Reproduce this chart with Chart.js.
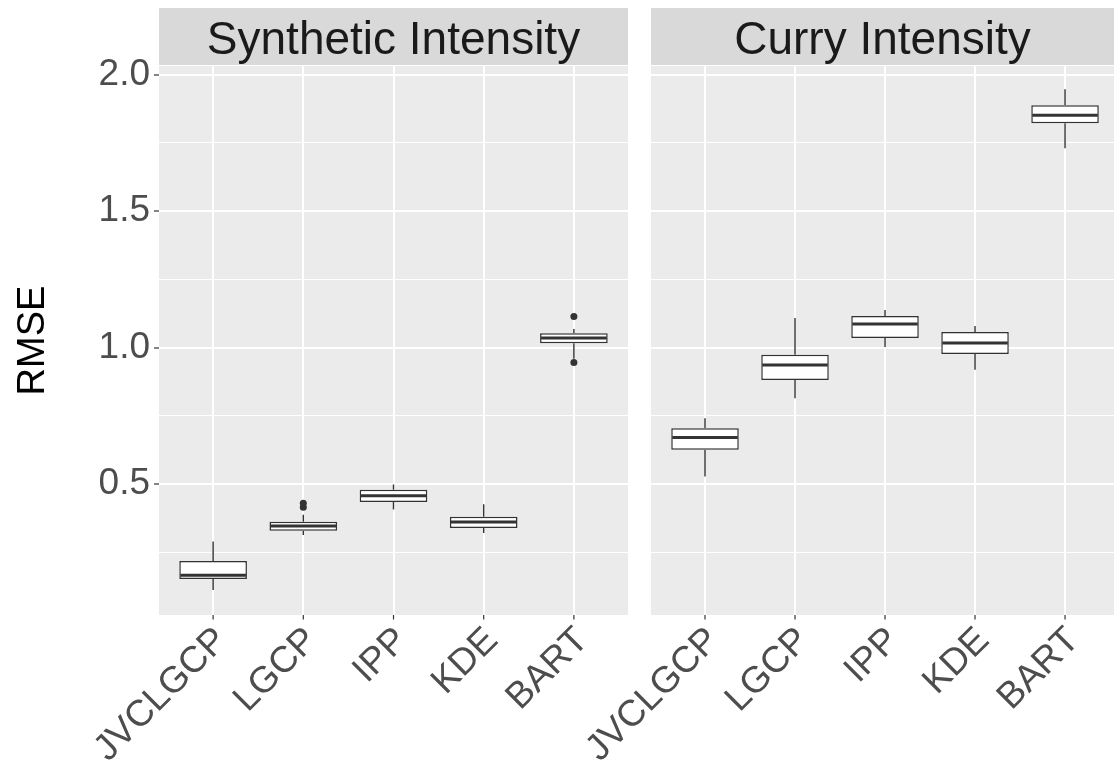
<!DOCTYPE html>
<html>
<head>
<meta charset="utf-8">
<script src="https://cdn.jsdelivr.net/npm/chart.js@4.4.1/dist/chart.umd.min.js"></script>
<style>
  html, body { margin: 0; padding: 0; background: #ffffff; }
  #wrap { position: relative; width: 1114px; height: 771px; overflow: hidden; }
  #left { position: absolute; left: 0; top: 0; }
  #right { position: absolute; left: 560px; top: 0; }
</style>
</head>
<body>
<div id="wrap">
  <canvas id="left" width="640" height="771"></canvas>
  <canvas id="right" width="554" height="771"></canvas>
</div>
<script>
// Methods compared on the x axis
const methods = ['JVCLGCP', 'LGCP', 'IPP', 'KDE', 'BART'];
const panelTitles = ['Synthetic Intensity', 'Curry Intensity'];
const yLabelTicks = [0.5, 1.0, 1.5, 2.0];
const yMinorTicks = [0.25, 0.75, 1.25, 1.75];
const yAxisTitle = 'RMSE';

// Synthetic intensity: box-plot summaries per method
const synLow  = [0.113, 0.314, 0.407, 0.321, 0.960];
const synQ1   = [0.153, 0.330, 0.435, 0.340, 1.016];
const synMed  = [0.167, 0.347, 0.458, 0.362, 1.036];
const synQ3   = [0.219, 0.363, 0.480, 0.381, 1.053];
const synHigh = [0.290, 0.388, 0.499, 0.427, 1.069];
const synOutIdx = [1, 1, 4, 4];
const synOutVal = [0.430, 0.416, 1.114, 0.946];

// Curry intensity: box-plot summaries per method
const curLow  = [0.528, 0.815, 1.003, 0.919, 1.731];
const curQ1   = [0.626, 0.882, 1.036, 0.977, 1.822];
const curMed  = [0.671, 0.937, 1.087, 1.017, 1.852];
const curQ3   = [0.705, 0.974, 1.116, 1.058, 1.888];
const curHigh = [0.742, 1.109, 1.138, 1.080, 1.947];
const curOutIdx = [];
const curOutVal = [];

const FONT = 'Liberation Sans, Arial, Helvetica, sans-serif';
const INK = '#333333';
const Y_MIN = 0.021, Y_MAX = 2.032;
const X_LABEL_SIZE = 37;

function isMajor(v) { return yLabelTicks.some(t => Math.abs(t - v) < 1e-9); }

// Panel background + facet strip with its label
const facetStrip = {
  id: 'facetStrip',
  beforeDraw(chart, args, opts) {
    const { ctx, chartArea: a } = chart;
    ctx.save();
    ctx.fillStyle = '#EBEBEB';
    ctx.fillRect(a.left, a.top, a.right - a.left, a.bottom - a.top);
    ctx.fillStyle = '#D9D9D9';
    ctx.fillRect(a.left, 8, a.right - a.left, a.top - 9);
    ctx.fillStyle = '#1A1A1A';
    ctx.font = '46px ' + FONT;
    ctx.textAlign = 'center';
    ctx.textBaseline = 'alphabetic';
    ctx.fillText(opts.text, (a.left + a.right) / 2, 54);
    ctx.restore();
  }
};

// Whiskers and median lines, placed through the chart scales
const boxParts = {
  id: 'boxParts',
  afterDatasetsDraw(chart, args, opts) {
    const { ctx } = chart;
    const xs = chart.scales.x, ys = chart.scales.y;
    const meta = chart.getDatasetMeta(0);
    ctx.save();
    ctx.strokeStyle = INK;
    ctx.lineCap = 'butt';
    opts.med.forEach((m, i) => {
      const x = xs.getPixelForValue(i);
      const half = meta.data[i].width / 2;
      ctx.lineWidth = 1.4;
      ctx.beginPath();
      ctx.moveTo(x, ys.getPixelForValue(opts.q3[i]));
      ctx.lineTo(x, ys.getPixelForValue(opts.high[i]));
      ctx.moveTo(x, ys.getPixelForValue(opts.q1[i]));
      ctx.lineTo(x, ys.getPixelForValue(opts.low[i]));
      ctx.stroke();
      ctx.lineWidth = 3;
      ctx.beginPath();
      const y = ys.getPixelForValue(m);
      ctx.moveTo(x - half + 1, y);
      ctx.lineTo(x + half - 1, y);
      ctx.stroke();
    });
    ctx.restore();
  }
};

// Tick marks and 45-degree category labels under the panel
const slantedLabels = {
  id: 'slantedLabels',
  afterDraw(chart) {
    const { ctx } = chart;
    const xs = chart.scales.x;
    const bottom = chart.chartArea.bottom;
    ctx.save();
    ctx.strokeStyle = INK;
    ctx.lineWidth = 1.2;
    ctx.fillStyle = '#4D4D4D';
    ctx.font = X_LABEL_SIZE + 'px ' + FONT;
    ctx.textAlign = 'right';
    ctx.textBaseline = 'alphabetic';
    methods.forEach((name, i) => {
      const x = xs.getPixelForValue(i);
      ctx.beginPath();
      ctx.moveTo(x, bottom);
      ctx.lineTo(x, bottom + 4.5);
      ctx.stroke();
      ctx.save();
      ctx.translate(x - 3, bottom + 8);
      ctx.rotate(-Math.PI / 4);
      ctx.fillText(name, 0, X_LABEL_SIZE * 0.716);
      ctx.restore();
    });
    ctx.restore();
  }
};

function makeChart(id, title, low, q1, med, q3, high, outIdx, outVal, first) {
  const xMax = first ? 4.6 : 4.544;
  return new Chart(document.getElementById(id), {
    type: 'bar',
    data: {
      datasets: [
        {
          type: 'bar',
          data: methods.map((m, i) => ({ x: i, y: [q1[i], q3[i]] })),
          backgroundColor: '#FFFFFF',
          borderColor: INK,
          borderWidth: 1.5,
          borderSkipped: false,
          barPercentage: 0.75,
          categoryPercentage: 1.0,
          order: 2
        },
        {
          type: 'scatter',
          data: outIdx.map((ix, k) => ({ x: ix, y: outVal[k] })),
          backgroundColor: INK,
          borderColor: INK,
          pointRadius: 3.5,
          borderWidth: 0,
          order: 1
        }
      ]
    },
    options: {
      responsive: false,
      animation: false,
      devicePixelRatio: 1,
      layout: { padding: { top: 66, left: 0, right: first ? 12 : 0, bottom: 0 } },
      plugins: {
        legend: { display: false },
        tooltip: { enabled: false },
        facetStrip: { text: title },
        boxParts: { low, q1, med, q3, high }
      },
      scales: {
        x: {
          type: 'linear',
          min: -0.6,
          max: xMax,
          offset: false,
          afterBuildTicks: s => { s.ticks = methods.map((m, i) => ({ value: i })); },
          afterFit: s => { s.height = 771 - 615; },
          ticks: { display: false },
          grid: { offset: false, color: '#FFFFFF', lineWidth: 2, drawTicks: false },
          border: { display: false }
        },
        y: {
          min: Y_MIN,
          max: Y_MAX,
          afterBuildTicks: s => {
            s.ticks = yMinorTicks.concat(yLabelTicks).sort((a, b) => a - b).map(v => ({ value: v }));
          },
          afterFit: s => { s.width = first ? 159 : 91; },
          ticks: {
            display: first,
            autoSkip: false,
            padding: 4,
            color: '#4D4D4D',
            font: { family: FONT, size: 37 },
            callback: v => isMajor(v) ? v.toFixed(1) : ''
          },
          grid: {
            color: '#FFFFFF',
            lineWidth: c => (c.tick && isMajor(c.tick.value)) ? 2 : 1,
            drawTicks: first,
            tickLength: 5,
            tickWidth: 1.2,
            tickColor: c => (c.tick && isMajor(c.tick.value)) ? INK : 'rgba(0,0,0,0)'
          },
          border: { display: false },
          title: {
            display: first,
            text: yAxisTitle,
            color: '#000000',
            font: { family: FONT, size: 38 },
            padding: { top: 11, bottom: 0 }
          }
        }
      }
    },
    plugins: [facetStrip, boxParts, slantedLabels]
  });
}

makeChart('left', panelTitles[0], synLow, synQ1, synMed, synQ3, synHigh, synOutIdx, synOutVal, true);
makeChart('right', panelTitles[1], curLow, curQ1, curMed, curQ3, curHigh, curOutIdx, curOutVal, false);
</script>
</body>
</html>
